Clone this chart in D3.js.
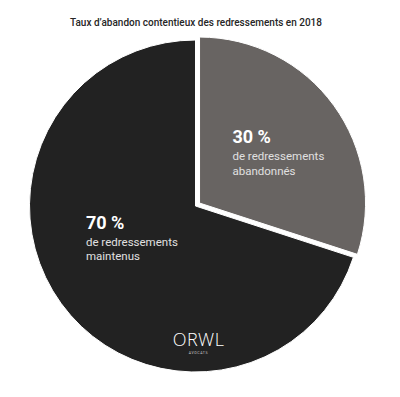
<!DOCTYPE html>
<html>
<head>
<meta charset="utf-8">
<script src="https://cdn.jsdelivr.net/npm/d3@7"></script>
<style>
  html, body { margin: 0; padding: 0; background: #ffffff; }
  svg { display: block; }
</style>
</head>
<body>
<svg id="chart" width="400" height="397"></svg>
<script>
// ---- data ----
const title = "Taux d\u2019abandon contentieux des redressements en 2018";
const categories = ["abandonnés", "maintenus"];
const values = [30, 70];
const percentLabels = ["30 %", "70 %"];
const subLabels = [["de redressements", "abandonnés"], ["de redressements", "maintenus"]];
const colors = ["#686462", "#222222"];

// ---- layout ----
const svg = d3.select("#chart");
const W = 400, H = 397;
const cx = 195.5, cy = 206, R = 166;
const explode = 5;

const titleText = svg.append("text")
  .attr("x", 196).attr("y", 26)
  .attr("text-anchor", "middle")
  .attr("font-family", "Roboto, sans-serif")
  .attr("font-weight", 500)
  .attr("font-size", 10.5)
  .attr("fill", "#262626")
  .text(title);
// fit the title to the reference width
const tw = titleText.node().getComputedTextLength();
if (tw > 254) titleText.attr("textLength", 252).attr("lengthAdjust", "spacingAndGlyphs");

const pie = d3.pie().sort(null).value(d => d)(values);
const arc = d3.arc().innerRadius(0).outerRadius(R);

const g = svg.append("g").attr("transform", `translate(${cx},${cy})`);

const slices = g.selectAll("g.slice").data(pie).join("g")
  .attr("class", "slice")
  .attr("transform", (d, i) => {
    if (i !== 0) return null;
    const a = (d.startAngle + d.endAngle) / 2;
    return `translate(${Math.sin(a) * explode},${-Math.cos(a) * explode})`;
  });

slices.append("path")
  .attr("d", arc)
  .attr("fill", (d, i) => colors[i])
  .attr("stroke", "#ffffff")
  .attr("stroke-width", 1);

// label placement
const labelRadius = [93, 72];
const labelAngleShift = [0.05, 0.17];
slices.each(function(d, i) {
  const a = (d.startAngle + d.endAngle) / 2 + labelAngleShift[i];
  const lx = Math.sin(a) * labelRadius[i];
  const ly = -Math.cos(a) * labelRadius[i];
  const x0 = lx - 45;
  const t = d3.select(this).append("g").attr("transform", `translate(${x0},${ly - 22})`);
  t.append("text")
    .attr("x", 0).attr("y", 13)
    .attr("font-family", "Roboto, sans-serif")
    .attr("font-weight", 700)
    .attr("font-size", 18)
    .attr("fill", "#ffffff")
    .text(percentLabels[i]);
  subLabels[i].forEach((s, k) => {
    t.append("text")
      .attr("x", 0).attr("y", 30 + k * 14.5)
      .attr("font-family", "Roboto, sans-serif")
      .attr("font-weight", 400)
      .attr("font-size", 11.5)
      .attr("fill", "#e0e0e0")
      .text(s);
  });
});

// logo
const logo = svg.append("g").attr("transform", `translate(${cx + 3},0)`);
logo.append("text")
  .attr("x", 0).attr("y", 346)
  .attr("text-anchor", "middle")
  .attr("font-family", "'Open Sans', sans-serif")
  .attr("font-weight", 300)
  .attr("font-size", 18)
  .attr("letter-spacing", 0.5)
  .attr("fill", "#ffffff")
  .text("ORWL");
logo.append("text")
  .attr("x", 0).attr("y", 354)
  .attr("text-anchor", "middle")
  .attr("font-family", "Roboto, sans-serif")
  .attr("font-size", 3.5)
  .attr("letter-spacing", 0.6)
  .attr("fill", "#cccccc")
  .text("AVOCATS");
</script>
</body>
</html>
